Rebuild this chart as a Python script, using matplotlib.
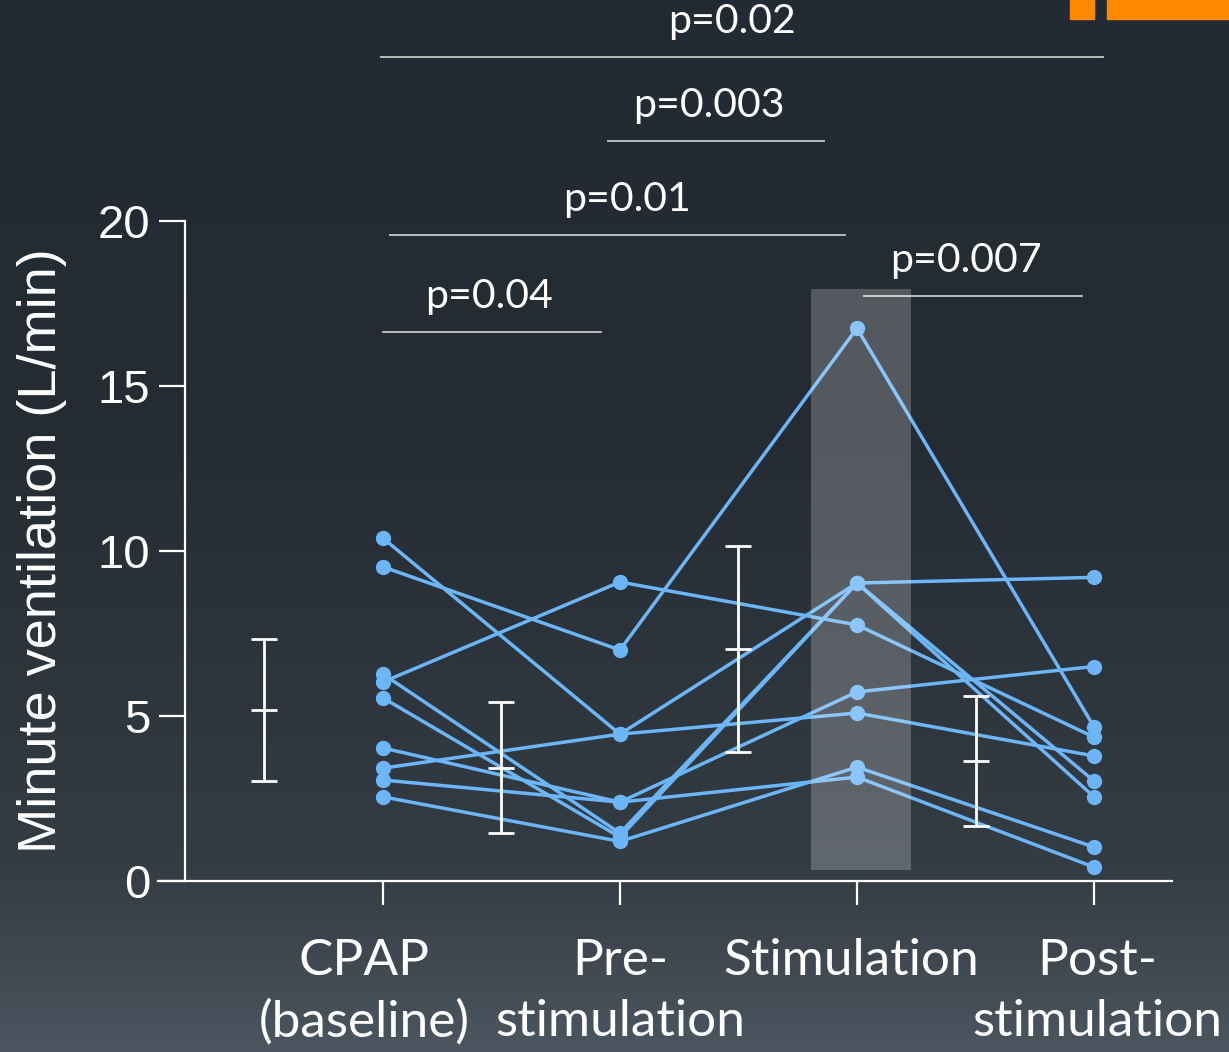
import matplotlib
matplotlib.use("Agg")
import matplotlib.pyplot as plt
import matplotlib.transforms as mtransforms
import numpy as np

# conditions on the x axis
conditions = ["CPAP\n(baseline)", "Pre-\nstimulation", "Stimulation", "Post-\nstimulation"]

# minute ventilation (L/min) per subject, one value per condition
cpap = [6.03, 9.52, 10.39, 3.42, 4.03, 3.06, 6.27, 5.55, 2.55]
pre_stim = [9.06, 7.00, 4.45, 4.45, 2.39, 2.39, 1.45, 1.33, 1.20]
stim = [7.76, 16.75, 9.03, 5.09, 5.73, 3.15, 9.03, 9.03, 3.45]
post_stim = [4.36, 4.67, 9.20, 3.79, 6.50, 0.42, 3.03, 2.55, 1.03]

# group summaries (mean and SD), drawn half a step left of each group
summary_mean = [5.18, 3.43, 7.03, 3.64]
summary_sd = [2.15, 1.98, 3.13, 1.97]

# significance brackets: (from, to, height, label, label centre)
brackets = [
    (0.00, 0.92, 16.64, "p=0.04", 0.447),
    (0.03, 1.95, 19.58, "p=0.01", 1.03),
    (0.95, 1.86, 22.42, "p=0.003", 1.376),
    (-0.01, 3.04, 24.97, "p=0.02", 1.473),
    (2.03, 2.95, 17.73, "p=0.007", 2.46),
]

BLUE = "#6cb6f8"
W, H = 1229, 1052

fig = plt.figure(figsize=(W / 100, H / 100), dpi=100)

# background gradient
bg = fig.add_axes([0, 0, 1, 1], zorder=-10)
rows = np.arange(H)
stops_y = [0, 450, 870, 1052]
cols = np.stack([
    np.interp(rows, stops_y, [34, 37, 52, 76]),
    np.interp(rows, stops_y, [42, 44, 60, 86]),
    np.interp(rows, stops_y, [51, 52, 68, 96]),
], axis=1) / 255.0
bg.imshow(np.repeat(cols[:, None, :], 4, axis=1), aspect="auto", extent=[0, 1, 0, 1])
bg.axis("off")

# orange marks top right
bg.add_patch(plt.Rectangle((1070 / W, 1 - 19 / H), 24 / W, 19 / H, color="#ff8800",
                           transform=bg.transAxes))
bg.add_patch(plt.Rectangle((1107 / W, 1 - 19 / H), 122 / W, 19 / H, color="#ff8800",
                           transform=bg.transAxes))

ax_w = 1172 - 158
ax = fig.add_axes([158 / W, (H - 881) / H, ax_w / W, 881 / H])
ax.set_facecolor("none")
ax.set_xlim(-0.949, 3.329)
ax.set_ylim(0, 881 / 33)

x = np.arange(len(conditions))
data = np.array([cpap, pre_stim, stim, post_stim])
for j in range(data.shape[1]):
    ax.plot(x, data[:, j], color=BLUE, lw=2.5, marker="o", ms=10, zorder=3,
            solid_capstyle="round")

ax.errorbar(x - 0.5, summary_mean, yerr=summary_sd, fmt="_", color="white",
            ms=19, mew=2, elinewidth=2, capsize=9.5, capthick=2, zorder=4)

# highlight on the stimulation group
ax.add_patch(plt.Rectangle((1.806, 0.33), 0.422, 17.6, facecolor="white",
                           alpha=0.22, edgecolor="none", zorder=5))

for x0, x1, yb, label, xt in brackets:
    ax.plot([x0, x1], [yb, yb], color="#c8c8c8", lw=1.3, clip_on=False, zorder=2)
    ax.text(xt, yb + 0.72, label, ha="center", va="baseline",
            color="white", fontsize=29.5, family=["Lato", "DejaVu Sans"])

for s in ["top", "right"]:
    ax.spines[s].set_visible(False)
ax.spines["left"].set_position(("data", -0.835))
ax.spines["left"].set_bounds(0, 20)
for s in ["left", "bottom"]:
    ax.spines[s].set_color("white")
    ax.spines[s].set_linewidth(1.6)

ax.set_yticks([0, 5, 10, 15, 20])
ax.tick_params(axis="y", colors="white", length=19, width=1.6, pad=6, labelsize=34)
for t in ax.get_yticklabels():
    t.set_family(["Liberation Sans", "DejaVu Sans"])

ax.set_xticks(x)
ax.set_xticklabels(conditions, fontsize=37, family=["Lato", "DejaVu Sans"],
                   linespacing=1.4, va="top")
ax.tick_params(axis="x", colors="white", length=17, width=1.6, pad=24)
label_shift = [-19, 0, -6, 3]
for t, dx in zip(ax.get_xticklabels(), label_shift):
    t.set_transform(t.get_transform() +
                    mtransforms.ScaledTranslation(dx / 100, 0, fig.dpi_scale_trans))

ax.set_ylabel("Minute ventilation (L/min)", color="white", fontsize=39,
              family=["Liberation Sans", "DejaVu Sans"])
ax.yaxis.set_label_coords(-91 / ax_w, 10 / (881 / 33))

fig.savefig("out.png", dpi=100)
